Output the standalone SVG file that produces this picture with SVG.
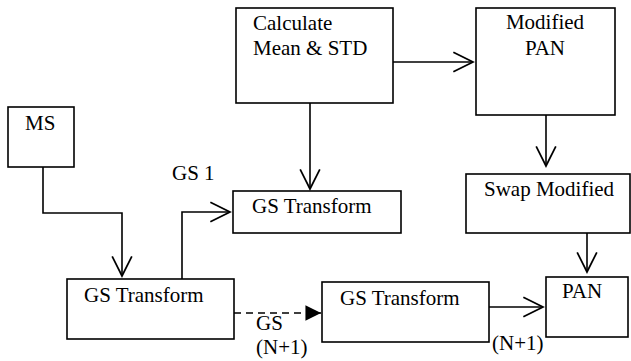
<svg xmlns="http://www.w3.org/2000/svg" width="631" height="361" viewBox="0 0 631 361">
<style>
.box{fill:#fff;stroke:#000;stroke-width:1.6}
.t{font-family:'Liberation Serif','DejaVu Serif',serif;font-size:21px;fill:#000}
.c{fill:none;stroke:#000;stroke-width:1.6}
.d{fill:none;stroke:#000;stroke-width:1.6;stroke-dasharray:7 5}
</style>
<defs>
<marker id="open" markerUnits="userSpaceOnUse" markerWidth="24" markerHeight="24" viewBox="-20 -11 22 22" refX="0" refY="0" orient="auto">
<path d="M-18,-9 L0,0 L-18,9" fill="none" stroke="#000" stroke-width="1.6"/>
</marker>
<marker id="fill" markerUnits="userSpaceOnUse" markerWidth="20" markerHeight="20" viewBox="-16 -9 17 18" refX="0" refY="0" orient="auto">
<path d="M-14,-7 L0,0 L-14,7 Z" fill="#000"/>
</marker>
</defs>
<g id="connectors">
<line class="c" x1="393" y1="62" x2="473" y2="62" marker-end="url(#open)"/>
<line class="c" x1="310" y1="103" x2="310" y2="189" marker-end="url(#open)"/>
<polyline class="c" points="43,167 43,213 122,213 122,276" marker-end="url(#open)"/>
<polyline class="c" points="182,279 182,212 230,212" marker-end="url(#open)"/>
<line class="c" x1="546" y1="115" x2="546" y2="166" marker-end="url(#open)"/>
<line class="c" x1="587" y1="233" x2="587" y2="272" marker-end="url(#open)"/>
<line class="c" x1="489" y1="307" x2="543" y2="307" marker-end="url(#open)"/>
<line class="d" x1="234" y1="313" x2="321" y2="313" marker-end="url(#fill)"/>
<text class="t" x="172" y="180" font-family="Liberation Serif">GS 1</text>
<text class="t" x="256" y="330" font-family="Liberation Serif">GS</text>
<text class="t" x="256" y="354" font-family="Liberation Serif">(N+1)</text>
<text class="t" x="492" y="350" font-family="Liberation Serif">(N+1)</text>
</g>
<g id="calc">
<rect class="box" x="236" y="8" width="157" height="95"/>
<text class="t" x="253" y="30" font-family="Liberation Serif">Calculate</text>
<text class="t" x="253" y="55" font-family="Liberation Serif">Mean &amp; STD</text>
</g>
<g id="modpan">
<rect class="box" x="476" y="8" width="139" height="107"/>
<text class="t" x="545" y="29" text-anchor="middle" font-family="Liberation Serif">Modified</text>
<text class="t" x="545" y="55" text-anchor="middle" font-family="Liberation Serif">PAN</text>
</g>
<g id="ms">
<rect class="box" x="8" y="107" width="66" height="60"/>
<text class="t" x="25" y="130" font-family="Liberation Serif">MS</text>
</g>
<g id="gs-mid">
<rect class="box" x="233" y="191" width="168" height="42"/>
<text class="t" x="252" y="213" font-family="Liberation Serif">GS Transform</text>
</g>
<g id="swap">
<rect class="box" x="466" y="174" width="164" height="59"/>
<text class="t" x="484" y="196" font-family="Liberation Serif">Swap Modified</text>
</g>
<g id="gs-left">
<rect class="box" x="67" y="279" width="167" height="60"/>
<text class="t" x="84" y="302" font-family="Liberation Serif">GS Transform</text>
</g>
<g id="gs-right">
<rect class="box" x="322" y="282" width="167" height="60"/>
<text class="t" x="340" y="305" font-family="Liberation Serif">GS Transform</text>
</g>
<g id="pan">
<rect class="box" x="546" y="277" width="82" height="60"/>
<text class="t" x="562" y="298" font-family="Liberation Serif">PAN</text>
</g>
</svg>
